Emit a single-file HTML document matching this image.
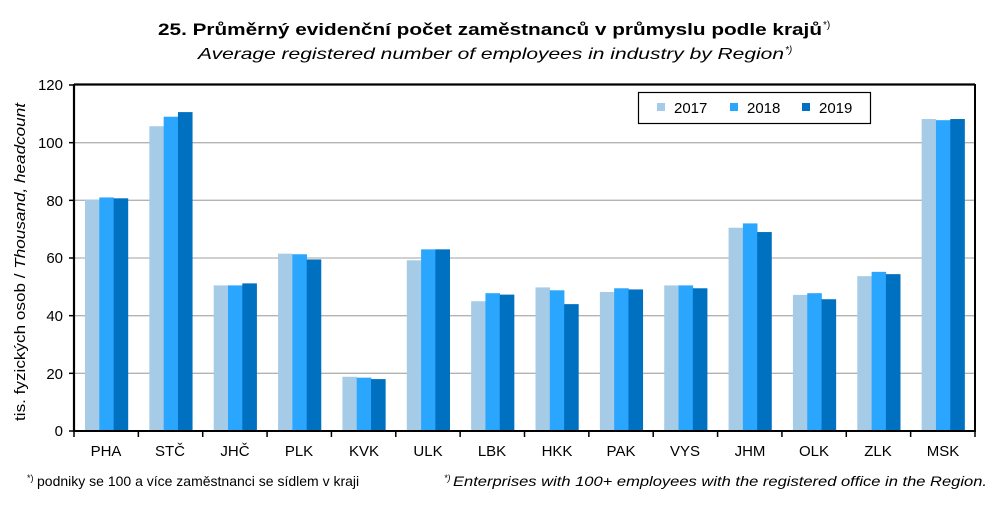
<!DOCTYPE html>
<html><head><meta charset="utf-8"><style>
body{margin:0;background:#fff;}
svg{display:block;font-family:"Liberation Sans",sans-serif;}
</style></head><body>
<svg id="s" width="1004" height="511" xmlns="http://www.w3.org/2000/svg">
<rect width="1004" height="511" fill="#fff"/>
<text x="490" y="35" font-size="17" font-weight="bold" text-anchor="middle" textLength="664" lengthAdjust="spacingAndGlyphs">25. Průměrný evidenční počet zaměstnanců v průmyslu podle krajů</text>
<text x="823" y="28" font-size="10">*)</text>
<text x="491" y="59" font-size="16" font-style="italic" text-anchor="middle" textLength="586" lengthAdjust="spacingAndGlyphs">Average registered number of employees in industry by Region</text>
<text x="785" y="53" font-size="10" font-style="italic">*)</text>
<g id="grid" stroke="#b3b3b3" stroke-width="1.3"></g>
<g id="bars"></g>
<line x1="74" y1="84.5" x2="975" y2="84.5" stroke="#000" stroke-width="2.2"/>
<line x1="74" y1="84" x2="74" y2="432" stroke="#000" stroke-width="2.2"/>
<line x1="975" y1="84" x2="975" y2="432" stroke="#000" stroke-width="2"/>
<line x1="73" y1="431" x2="976" y2="431" stroke="#000" stroke-width="2"/>
<g id="ticks" stroke="#000" stroke-width="1.5"></g>
<g font-size="15" text-anchor="end">
<text x="63" y="436">0</text><text x="63" y="379">20</text><text x="63" y="321">40</text><text x="63" y="263">60</text><text x="63" y="206">80</text><text x="63" y="148">100</text><text x="63" y="90">120</text>
</g>
<text transform="translate(25,262) rotate(-90)" font-size="15" text-anchor="middle" textLength="318" lengthAdjust="spacingAndGlyphs">tis. fyzických osob / <tspan font-style="italic">Thousand, headcount</tspan></text>
<g font-size="15" text-anchor="middle">
<text x="106" y="456">PHA</text><text x="170" y="456">STČ</text><text x="235" y="456">JHČ</text><text x="299" y="456">PLK</text><text x="364" y="456">KVK</text><text x="428" y="456">ULK</text><text x="492" y="456">LBK</text><text x="557" y="456">HKK</text><text x="621" y="456">PAK</text><text x="685" y="456">VYS</text><text x="750" y="456">JHM</text><text x="814" y="456">OLK</text><text x="878" y="456">ZLK</text><text x="943" y="456">MSK</text>
</g>
<rect x="638.5" y="92.5" width="232" height="31" fill="#fff" stroke="#000" stroke-width="1.2"/>
<rect x="657" y="103" width="8" height="8" fill="#a6cbe6"/><text x="674" y="113" font-size="15">2017</text>
<rect x="730" y="103" width="8" height="8" fill="#2aa6ff"/><text x="747" y="113" font-size="15">2018</text>
<rect x="802" y="103" width="8" height="8" fill="#0070c0"/><text x="819" y="113" font-size="15">2019</text>
<text x="27" y="481" font-size="9">*)</text>
<text x="37" y="486" font-size="14">podniky se 100 a více zaměstnanci se sídlem v kraji</text>
<text x="444" y="481" font-size="9" font-style="italic">*)</text>
<text x="453" y="486" font-size="14" font-style="italic" textLength="534" lengthAdjust="spacingAndGlyphs">Enterprises with 100+ employees with the registered office in the Region.</text>
</svg>
<script>
var d=[[80.3,81,80.7],[105.7,109,110.6],[50.5,50.5,51.2],[61.5,61.3,59.5],[18.8,18.5,18],[59.2,63,63],[45,47.8,47.3],[49.8,48.8,44],[48.2,49.5,49.1],[50.5,50.5,49.5],[70.5,72,69],[47.2,47.8,45.7],[53.7,55.2,54.4],[108.2,107.8,108.2]];
var c=["#a6cbe6","#2aa6ff","#0070c0"],ns="http://www.w3.org/2000/svg";
function el(p,t,a){var e=document.createElementNS(ns,t);for(var k in a)e.setAttribute(k,a[k]);document.getElementById(p).appendChild(e);}
for(var v=20;v<=100;v+=20){var y=431-v*346/120;el("grid","line",{x1:74,x2:975,y1:y,y2:y});el("ticks","line",{x1:69,x2:74,y1:y,y2:y});}
el("ticks","line",{x1:69,x2:74,y1:85,y2:85});el("ticks","line",{x1:69,x2:74,y1:431,y2:431});
var w=901/14;
for(var i=0;i<14;i++){for(var j=0;j<3;j++){var x=74+i*w+11+j*14.3,h=d[i][j]*346/120;el("bars","rect",{x:x,y:431-h,width:14.6,height:h,fill:c[j]});}
el("ticks","line",{x1:74+i*w,x2:74+i*w,y1:431,y2:437});}
el("ticks","line",{x1:975,x2:975,y1:431,y2:437});
</script>
</body></html>
